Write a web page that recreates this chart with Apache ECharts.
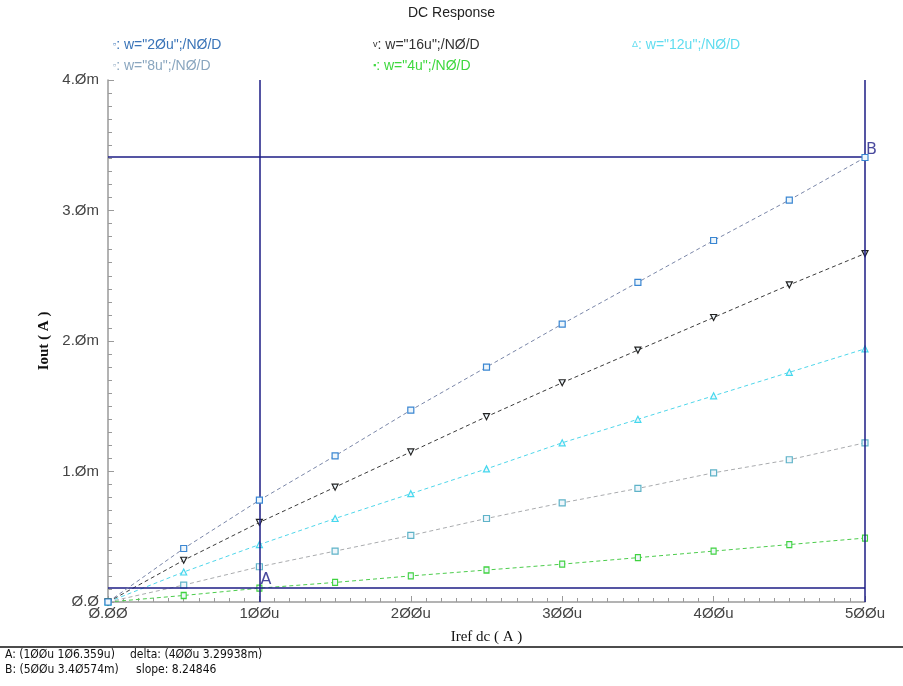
<!DOCTYPE html>
<html><head><meta charset="utf-8">
<script src="https://cdn.jsdelivr.net/npm/echarts@6/dist/echarts.min.js"></script>
<style>html,body{margin:0;padding:0;background:#fff}#c{width:903px;height:686px}</style>
</head><body><div id="c"></div>
<script>
// x values in µA (u), y values in mA (m)
var iref = [0, 50, 100, 150, 200, 250, 300, 350, 400, 450, 500];
var w20 = [0, 0.41, 0.78, 1.12, 1.47, 1.80, 2.13, 2.45, 2.77, 3.08, 3.406];
var w16 = [0, 0.32, 0.61, 0.88, 1.15, 1.42, 1.68, 1.93, 2.18, 2.43, 2.67];
var w12 = [0, 0.23, 0.44, 0.64, 0.83, 1.02, 1.22, 1.40, 1.58, 1.76, 1.94];
var w8  = [0, 0.13, 0.27, 0.39, 0.51, 0.64, 0.76, 0.87, 0.99, 1.09, 1.22];
var w4  = [0, 0.05, 0.106, 0.15, 0.20, 0.245, 0.29, 0.34, 0.39, 0.44, 0.49];
var seriesNames = ['w="20u";/N0/D', 'w="16u";/N0/D', 'w="12u";/N0/D', 'w="8u";/N0/D', 'w="4u";/N0/D'];
var cursorA = [100, 0.106359];
var cursorB = [500, 3.40574];
var readout = ['A: (100u 106.359u)', 'B: (500u 3.40574m)', 'delta: (400u 3.29938m)', 'slope: 8.24846'];

function slash(s){ return s.replace(/0/g, 'Ø'); }

var allData = [w20, w16, w12, w8, w4];
var lineColors = ['#7a86a8', '#3a3a3a', '#4fd6ea', '#a9abae', '#4ccc4c'];
var markColors = ['#3a86d2', '#222222', '#45d8ee', '#5fb3c8', '#3fd23f'];
var legendColors = ['#3a74b8', '#333333', '#5fdcef', '#8aa6bf', '#3ed83e'];
var symbols = ['rect', 'path://M0,0 L10,0 L5,10 Z', 'triangle', 'rect', 'rect'];
var legendGlyph = ['▫', 'v', 'Δ', '▫', '▪'];

var series = allData.map(function(d, i){
  return {
    type: 'line', name: seriesNames[i],
    data: iref.map(function(x, k){ return [x, d[k]]; }),
    lineStyle: {color: lineColors[i], width: 1, type: [4, 3]},
    itemStyle: {color: '#eef6fb', borderColor: markColors[i], borderWidth: 1.2},
    symbol: symbols[i], symbolSize: i === 4 ? [5, 6] : 6,
    showAllSymbol: true, z: 5 - i, animation: false
  };
});

var navy = '#1c1c84';
series.push({
  type: 'line', data: [], silent: true, animation: false,
  markLine: {
    symbol: 'none', silent: true, animation: false,
    lineStyle: {color: navy, width: 1.5, type: 'solid'},
    label: {show: false},
    data: [
      {xAxis: cursorA[0]}, {xAxis: cursorB[0]},
      {yAxis: cursorA[1]}, {yAxis: cursorB[1]}
    ]
  }
});
series.push({
  type: 'scatter', symbolSize: 0, animation: false, silent: true,
  data: [[cursorA[0], cursorA[1], 'A'], [cursorB[0], cursorB[1], 'B']],
  label: {show: true, position: 'right', offset: [-4, -8], color: navy,
    fontFamily: 'DejaVu Sans', fontSize: 16,
    formatter: function(p){ return p.data[2]; }}
});

var graphics = [
  {type: 'text', left: 'center', top: 6, style: {text: 'DC Response', fill: '#222', font: '14px "Liberation Sans", Arial'}},
  {type: 'line', shape: {x1: 0, y1: 647, x2: 903, y2: 647}, style: {stroke: '#111', lineWidth: 1.5}},
  {type: 'text', x: 5, y: 649, style: {text: slash(readout[0]), fill: '#111', font: '12px "DejaVu Sans Condensed", "DejaVu Sans"'}},
  {type: 'text', x: 5, y: 664, style: {text: slash(readout[1]), fill: '#111', font: '12px "DejaVu Sans Condensed", "DejaVu Sans"'}},
  {type: 'text', x: 130, y: 649, style: {text: slash(readout[2]), fill: '#111', font: '12px "DejaVu Sans Condensed", "DejaVu Sans"'}},
  {type: 'text', x: 136, y: 664, style: {text: slash(readout[3]), fill: '#111', font: '12px "DejaVu Sans Condensed", "DejaVu Sans"'}}
];
var legPos = [[113, 38], [373, 38], [632, 38], [113, 59], [373, 59]];
seriesNames.forEach(function(n, i){
  graphics.push({type: 'text', x: legPos[i][0], y: legPos[i][1],
    style: {text: '{g|' + legendGlyph[i] + '}: ' + slash(n), fill: legendColors[i],
      font: '14px "Liberation Sans", Arial',
      rich: {g: {fontSize: 9, fill: legendColors[i]}}}});
});

var chart = echarts.init(document.getElementById('c'), null, {renderer: 'canvas'});
chart.setOption({
  backgroundColor: '#fff',
  animation: false,
  grid: {left: 108, right: 38, top: 80, bottom: 84},
  xAxis: {
    type: 'value', min: 0, max: 500, interval: 100,
    name: 'Iref dc ( A )', nameLocation: 'middle', nameGap: 28,
    nameTextStyle: {fontFamily: '"Liberation Serif", serif', fontSize: 15, color: '#111'},
    axisLine: {show: true, lineStyle: {color: '#9a9a9a', width: 1.5}},
    axisTick: {show: true, inside: true, length: 6, lineStyle: {color: '#9a9a9a'}},
    minorTick: {show: true, splitNumber: 10, length: 4, lineStyle: {color: '#9a9a9a'}},
    splitLine: {show: false},
    axisLabel: {color: '#444', fontSize: 15, fontFamily: '"Liberation Sans", Arial', margin: 4,
      formatter: function(v){ return v === 0 ? slash('0.00') : slash(String(v)) + 'u'; }}
  },
  yAxis: {
    type: 'value', min: 0, max: 4, interval: 1,
    name: 'Iout ( A )', nameLocation: 'middle', nameGap: 56,
    nameTextStyle: {fontFamily: '"Liberation Serif", serif', fontSize: 15, fontWeight: 'bold', color: '#111'},
    axisLine: {show: true, lineStyle: {color: '#9a9a9a', width: 1.5}},
    axisTick: {show: true, inside: true, length: 6, lineStyle: {color: '#9a9a9a'}},
    minorTick: {show: true, splitNumber: 10, length: 4, lineStyle: {color: '#9a9a9a'}},
    splitLine: {show: false},
    axisLabel: {color: '#444', fontSize: 15, fontFamily: '"Liberation Sans", Arial', margin: 9,
      formatter: function(v){ return v === 0 ? slash('0.0') : slash(v.toFixed(1)) + 'm'; }}
  },
  series: series,
  graphic: graphics
});
</script></body></html>
